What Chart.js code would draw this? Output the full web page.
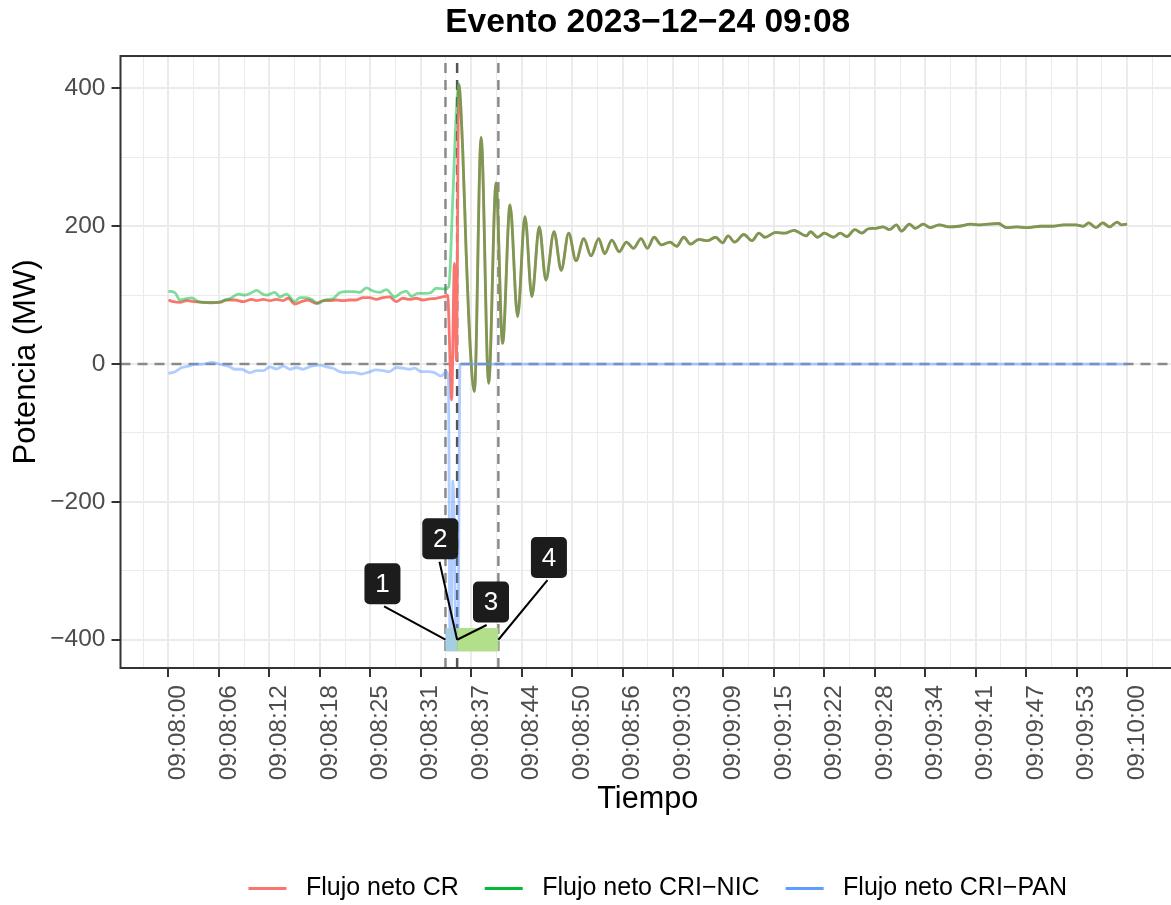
<!DOCTYPE html>
<html>
<head>
<meta charset="utf-8">
<title>Evento 2023−12−24 09:08</title>
<script src="https://cdn.jsdelivr.net/npm/chart.js@4.4.1/dist/chart.umd.min.js"></script>
<style>
  html, body { margin: 0; padding: 0; background: #fff; }
  #wrap { width: 1171px; height: 905px; overflow: hidden; }
  canvas { display: block; }
</style>
</head>
<body>
<div id="wrap"><canvas id="eventChart" width="1190" height="905"></canvas></div>
<script>
// ---------------- AXES ----------------
const timeLabels = [
  "09:08:00", "09:08:06", "09:08:12", "09:08:18", "09:08:25",
  "09:08:31", "09:08:37", "09:08:44", "09:08:50", "09:08:56",
  "09:09:03", "09:09:09", "09:09:15", "09:09:22", "09:09:28",
  "09:09:34", "09:09:41", "09:09:47", "09:09:53", "09:10:00",
];
const yTickValues = [-400, -200, 0, 200, 400];
const yTickLabels = ["−400", "−200", "0", "200", "400"];
const yMinorValues = [-300, -100, 100, 300];

const seriesNames = ["Flujo neto CR", "Flujo neto CRI−NIC", "Flujo neto CRI−PAN"];

// ---------------- SERIES (seconds after 09:08:00, MW) ----------------
const crPreTime = [0, 0.62, 1.46, 2.29, 3.12, 4.16, 5.2, 6.45, 7.28, 8.33, 9.37, 10.41, 11.04, 11.87,
  12.7, 13.53, 14.36, 14.99, 15.82, 16.65, 17.49, 18.53, 19.36, 20.19, 21.02, 21.86, 22.69, 23.52,
  24.36, 25.19, 26.02, 26.85, 27.69, 28.52, 29.35, 30.18, 31.01, 31.85, 32.68, 33.51, 34.34];
const crPreValue = [93, 90.5, 89.5, 92, 90.5, 89.5, 89, 89.5, 93, 93, 90.5, 94, 92, 94,
  92, 94, 92, 95.5, 87, 90.5, 93, 88, 92, 92, 93, 92, 93, 93,
  96.5, 96.5, 94, 96.5, 97.5, 90.5, 95.5, 94, 95.5, 93, 94.5, 95.5, 97.5];
const crEventTime = [34.8, 34.95, 35.45, 35.8, 36.05, 36.34];
const crEventValue = [99, 100, -52, 146, 5, 405];

const nicPreTime = [0, 0.83, 1.46, 2.29, 2.92, 3.75, 4.79, 6.04, 6.87, 7.71, 8.75, 9.58, 10.2, 11.04,
  11.66, 12.28, 13.32, 13.95, 14.78, 15.82, 16.45, 17.28, 17.9, 18.74, 19.57, 20.61, 21.44, 22.28,
  23.32, 23.94, 24.77, 25.6, 26.44, 27.27, 28.31, 29.14, 29.76, 30.39, 31.22, 32.05, 32.89, 33.51, 34.55];
const nicPreValue = [106, 103.5, 93, 95, 96, 90.5, 89.5, 89.5, 92, 95, 101.5, 100, 102.5, 107,
  102.5, 100, 104, 97.5, 101.5, 90.5, 96.5, 96.5, 94, 88, 93, 95, 103.5, 105,
  105, 104, 110.5, 106, 104, 108, 97.5, 103.5, 106, 98.5, 102.5, 102.5, 104, 110, 109];
const nicEventTime = [35.09, 35.59, 36.01, 36.34];
const nicEventValue = [112, 238, 359, 407];

// after the peak CR and CRI-NIC carry the same flow
const postTime = [36.84, 37.26, 37.8, 38.3, 39.14, 40.09, 41.01, 41.83, 42.76, 43.71, 44.63, 45.5,
  46.42, 47.25, 48.27, 49.17, 50.1, 51.02, 52.0, 52.9, 53.86, 54.61, 55.5, 56.43, 57.33, 58.22,
  59.16, 59.96, 60.8, 61.69, 62.78, 63.62, 64.51, 65.36, 66.4, 67.48, 68.48, 69.37, 70.06, 70.86,
  72.04, 73.04, 73.93, 74.67, 76.01, 77.15, 78.29, 79.87, 80.37, 81.26, 82.1, 83.24, 84.09, 84.93,
  85.92, 86.81, 87.55, 88.55, 89.44, 90.28, 91.12, 91.77, 92.76, 93.5, 94.49, 95.33, 96.48, 97.71,
  98.95, 100.44, 101.68, 102.67, 103.91, 104.9, 106.14, 107.63, 109.12, 110.61, 112.09, 113.58,
  114.56, 115.2, 116.1, 116.96, 117.8, 118.76, 119.3, 120];
const postValue = [310, 165, 20, -40, 329, -28, 263, 30, 231, 69, 214, 98,
  199, 122, 192, 136, 190, 150, 182, 157, 182, 160, 180, 163, 177, 168,
  182, 168, 184, 173, 177, 171, 184, 174, 181, 179, 184, 176, 186, 177,
  188, 179, 190, 184, 191, 190, 194, 186, 192, 184, 190, 184, 190, 185,
  195, 190, 196, 197, 199, 195, 202, 193, 203, 197, 203, 198, 202, 199,
  200, 203, 202, 203, 204, 198, 199, 198, 200, 200, 202, 202,
  200, 205, 198, 205, 199, 206, 202, 203];

const panPreTime = [0, 0.84, 1.67, 2.5, 3.33, 4.37, 5.42, 6.46, 7.5, 8.33, 9.16, 10.2, 11.04, 11.87,
  12.7, 13.53, 14.36, 15.2, 16.03, 16.86, 17.9, 18.94, 19.78, 20.61, 21.44, 22.27, 23.11, 24.15,
  24.98, 26.02, 26.85, 27.68, 28.52, 29.35, 30.18, 30.81, 31.64, 32.47, 33.3, 34.14, 34.76];
const panPreValue = [-13.5, -11, -5, -3, -0.5, 0, 2.5, -0.5, -3, -7.5, -7.5, -12.5, -9.5, -9.5,
  -4, -7, -3, -7.5, -5, -7.5, -3, -1.5, -4, -6, -11, -12.5, -12, -14.5,
  -12, -8.5, -9.5, -11, -5, -6, -7.5, -6, -11, -11, -12.5, -17.5, -11];
const panEventTime = [35.05, 35.25, 35.4, 35.6, 35.8, 36.0, 36.25, 36.5, 120];
const panEventValue = [-20, -400, -400, -170, -250, -400, -400, 0, 0];

// ---------------- EVENT MARKS ----------------
const eventLines = [34.68, 36.14, 41.3];
const phaseStart = [34.68, 36.14];
const phaseEnd = [36.14, 41.3];
const phaseLow = [-417, -417];
const phaseHigh = [-383, -383];

const markerText = ["1", "2", "3", "4"];
const markerTime = [26.79, 34.03, 40.38, 47.63];
const markerValue = [-318.7, -253.4, -345.3, -280.7];
const segStartTime = [27.0, 33.93, 39.83, 47.45];
const segStartValue = [-351.6, -286.8, -378.6, -313.4];
const segEndTime = [34.68, 36.14, 36.14, 41.3];
const segEndValue = [-400, -400, -400, -400];

// ---------------- STYLE ----------------
const FONT = '"Liberation Sans", Arial, Helvetica, sans-serif';
const legendColors = ["#F8766D", "#00BA38", "#619CFF"];
const lineColors = ["#F8766D", "rgba(0,186,56,0.5)", "rgba(97,156,255,0.5)"];
const phaseColors = ["#A6CEE3", "#B2DF8A"];
const vlineColors = ["#8a8a8a", "#555555", "#8a8a8a"];

Chart.defaults.font.family = FONT;

function toPoints(times, values) {
  return times.map((t, i) => ({ x: t, y: values[i] }));
}

const crData = toPoints(crPreTime.concat(crEventTime, postTime), crPreValue.concat(crEventValue, postValue));
const nicData = toPoints(nicPreTime.concat(nicEventTime, postTime), nicPreValue.concat(nicEventValue, postValue));
const panData = toPoints(panPreTime.concat(panEventTime), panPreValue.concat(panEventValue));

// major ticks every 120/19 s, a minor gridline half way
const xStep = 120 / (timeLabels.length - 1);
const xTicks = [];
for (let i = -1; i < timeLabels.length; i++) {
  if (i >= 0) xTicks.push({ value: i * xStep, text: timeLabels[i] });
  xTicks.push({ value: (i + 0.5) * xStep, text: "", minor: true });
}

const yTicks = yTickValues
  .map((v, i) => ({ value: v, text: yTickLabels[i] }))
  .concat(yMinorValues.map((v) => ({ value: v, text: "", minor: true })))
  .sort((a, b) => a.value - b.value);

const gridOpts = {
  color: "#EBEBEB",
  lineWidth: (ctx) => (ctx.tick && ctx.tick.minor ? 1 : 2),
  tickLength: 9,
  tickWidth: 2,
  tickColor: (ctx) => (ctx.tick && ctx.tick.minor ? "rgba(0,0,0,0)" : "#333333"),
};

// ======================================================
// EVENT PLUGIN: reference lines, phases, numbered labels
// ======================================================
const eventPlugin = {
  id: "eventMarks",
  afterLayout(chart) {
    const lg = chart.legend;
    lg.left += 10;
    lg.right += 10;
    lg.top += 6;
    lg.bottom += 6;
  },
  beforeDatasetsDraw(chart) {
    const { ctx, chartArea: a, scales } = chart;
    const x = scales.x, y = scales.y;
    ctx.save();
    ctx.beginPath();
    ctx.rect(a.left, a.top, a.width, a.height);
    ctx.clip();
    ctx.lineWidth = 2.5;
    ctx.setLineDash([10, 7]);

    const y0 = y.getPixelForValue(0);
    ctx.strokeStyle = "#8a8a8a";
    ctx.beginPath();
    ctx.moveTo(a.left, y0);
    ctx.lineTo(a.right, y0);
    ctx.stroke();

    eventLines.forEach((t, i) => {
      const px = x.getPixelForValue(t);
      ctx.strokeStyle = vlineColors[i];
      ctx.beginPath();
      ctx.moveTo(px, a.bottom);
      ctx.lineTo(px, a.top);
      ctx.stroke();
    });
    ctx.restore();
  },
  afterDatasetsDraw(chart) {
    const { ctx, chartArea: a, scales } = chart;
    const x = scales.x, y = scales.y;
    ctx.save();

    // ---------------- PHASES ----------------
    phaseStart.forEach((t, i) => {
      const x1 = x.getPixelForValue(t);
      const x2 = x.getPixelForValue(phaseEnd[i]);
      const y1 = y.getPixelForValue(phaseHigh[i]);
      const y2 = y.getPixelForValue(phaseLow[i]);
      ctx.fillStyle = phaseColors[i];
      ctx.fillRect(x1, y1, x2 - x1, y2 - y1);
    });

    // ---------------- LABEL SEGMENTS ----------------
    ctx.strokeStyle = "#000";
    ctx.lineWidth = 2;
    markerText.forEach((txt, i) => {
      ctx.beginPath();
      ctx.moveTo(x.getPixelForValue(segStartTime[i]), y.getPixelForValue(segStartValue[i]));
      ctx.lineTo(x.getPixelForValue(segEndTime[i]), y.getPixelForValue(segEndValue[i]));
      ctx.stroke();
    });

    // ---------------- LABELS ----------------
    ctx.font = "26px " + FONT;
    ctx.textAlign = "center";
    ctx.textBaseline = "middle";
    markerText.forEach((txt, i) => {
      const cx = x.getPixelForValue(markerTime[i]);
      const cy = y.getPixelForValue(markerValue[i]);
      ctx.fillStyle = "#1c1c1c";
      ctx.beginPath();
      ctx.roundRect(cx - 18, cy - 20.5, 36, 41, 5);
      ctx.fill();
      ctx.fillStyle = "#ffffff";
      ctx.fillText(txt, cx, cy + 1);
    });

    // ---------------- PANEL BORDER ----------------
    ctx.strokeStyle = "#333333";
    ctx.lineWidth = 2;
    ctx.strokeRect(a.left, a.top, a.right - a.left, a.bottom - a.top);
    ctx.restore();
  },
};

// ======================================================
// CHART
// ======================================================
const lineDefaults = { borderWidth: 2.8, pointRadius: 0, cubicInterpolationMode: "monotone", fill: false };

new Chart(document.getElementById("eventChart"), {
  type: "line",
  data: {
    datasets: [
      { ...lineDefaults, label: seriesNames[0], data: crData, borderColor: lineColors[0], order: 2 },
      { ...lineDefaults, label: seriesNames[1], data: nicData, borderColor: lineColors[1], order: 1 },
      { ...lineDefaults, label: seriesNames[2], data: panData, borderColor: lineColors[2], order: 0 },
    ],
  },
  options: {
    responsive: false,
    animation: false,
    devicePixelRatio: 1,
    events: [],
    layout: { padding: { left: 0, right: 12.5, top: 0, bottom: 0 } },
    scales: {
      x: {
        type: "linear",
        min: -6,
        max: 126,
        afterBuildTicks: (scale) => { scale.ticks = xTicks.map((t) => ({ ...t })); },
        afterFit: (scale) => { scale.height = 176; },
        ticks: {
          autoSkip: false,
          minRotation: 90,
          maxRotation: 90,
          padding: 8,
          labelOffset: 10,
          color: "#4D4D4D",
          font: { size: 24.5 },
          callback: (value, index, ticks) => ticks[index].text,
        },
        grid: gridOpts,
        border: { display: false },
        title: {
          display: true,
          text: "Tiempo",
          color: "#000",
          font: { size: 30.6 },
          padding: { top: 0, bottom: 25.6 },
        },
      },
      y: {
        type: "linear",
        min: -441,
        max: 447,
        afterBuildTicks: (scale) => { scale.ticks = yTicks.map((t) => ({ ...t })); },
        afterFit: (scale) => { scale.width = 120.5; },
        ticks: {
          padding: 6,
          color: "#4D4D4D",
          font: { size: 24.5 },
          callback: (value, index, ticks) => ticks[index].text,
        },
        grid: gridOpts,
        border: { display: false },
        title: {
          display: true,
          text: "Potencia (MW)",
          color: "#000",
          font: { size: 31 },
          padding: { top: 7.5, bottom: 0 },
        },
      },
    },
    plugins: {
      tooltip: { enabled: false },
      title: {
        display: true,
        fullSize: false,
        text: "Evento 2023−12−24 09:08",
        color: "#000",
        font: { size: 33.6, weight: "bold" },
        padding: { top: 3, bottom: 12.7 },
      },
      legend: {
        position: "bottom",
        fullSize: false,
        labels: {
          usePointStyle: true,
          pointStyle: "line",
          pointStyleWidth: 38,
          padding: 26,
          color: "#000",
          font: { size: 25 },
          generateLabels: (chart) =>
            chart.data.datasets.map((ds, i) => ({
              text: " " + ds.label,
              strokeStyle: legendColors[i],
              fillStyle: legendColors[i],
              lineWidth: 3,
              pointStyle: "line",
              hidden: false,
              datasetIndex: i,
            })),
        },
      },
    },
  },
  plugins: [eventPlugin],
});
</script>
</body>
</html>
